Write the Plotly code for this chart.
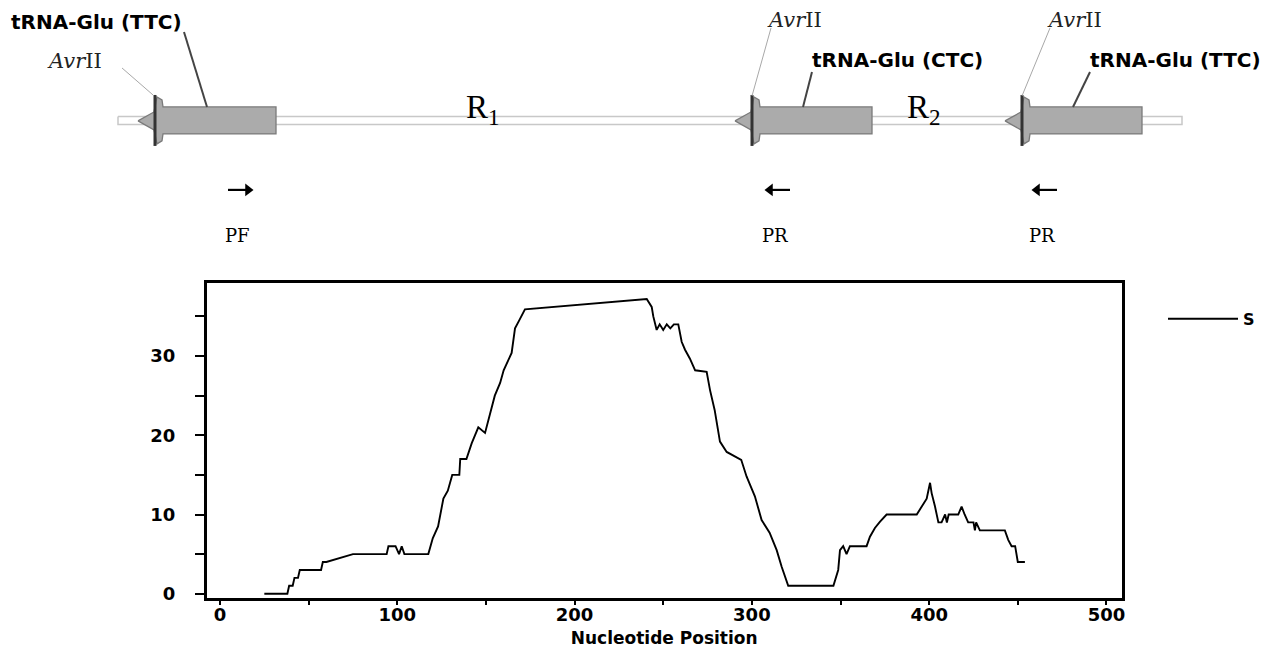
import plotly.graph_objects as go

# ---------------- data: similarity profile ----------------
positions = [25, 38, 39, 41, 42, 44, 45, 57, 58, 60, 75, 94, 95, 99, 101, 102.5, 104, 117.5,
             120, 123, 126, 128.5, 131, 135, 135.5, 139, 142, 145.7, 149.5, 152, 155, 158, 160,
             164.5, 166.4, 169, 172, 240.7, 243.5, 244.4, 246.3, 248, 250, 252, 254, 256, 258.5,
             260.4, 262.3, 265, 268, 274.5, 276.4, 279, 281, 282, 285.8, 294, 297, 301.7, 305.5,
             310, 314, 316.8, 320.5, 346, 348.7, 349.7, 351.5, 353.4, 355.3, 364.7, 366.6, 369.4,
             372.3, 376, 393, 395.7, 398.6, 400.5, 401.4, 403.3, 405.2, 407, 409, 410, 411, 416.4,
             418.3, 420, 422, 425, 425.8, 426.5, 428.6, 442.7, 444.6, 446.5, 448.5, 450, 454]
scores = [0, 0, 1, 1, 2, 2, 3, 3, 4, 4, 5, 5, 6, 6, 5, 6, 5, 5,
          7, 8.5, 12, 13, 15, 15, 17, 17, 19, 21, 20.3, 22.4, 25, 26.6, 28.2,
          30.4, 33.5, 34.6, 35.9, 37.2, 36.2, 35, 33.3, 34, 33.3, 34, 33.5, 34, 34,
          31.8, 30.8, 29.7, 28.2, 28, 25.7, 23.2, 20.3, 19.2, 17.9, 16.9, 14.8, 12.3, 9.3,
          7.7, 5.5, 3.4, 1, 1, 3, 5.5, 6, 5, 6, 6, 7.2, 8.3,
          9.1, 10, 10, 11, 12, 14, 12.7, 11, 9, 9, 10, 9, 10, 10,
          11, 10, 9, 9, 8, 9, 8, 8, 6.8, 6, 6, 4, 4]
series_name = "S"
x_ticks = [0, 100, 200, 300, 400, 500]
y_ticks = [0, 10, 20, 30]

# ---------------- data: gene map (schematic, pixel scale) ----------------
gene_labels = ["tRNA-Glu (TTC)", "tRNA-Glu (CTC)", "tRNA-Glu (TTC)"]
gene_tip = [138, 735, 1005]          # left (3') arrow tip
gene_end = [276, 872, 1142]          # right end of gene body
site_label = "<i>Avr</i>II"
backbone = [118, 1182]
region_labels = ["R<sub>1</sub>", "R<sub>2</sub>"]
region_pos = [483, 924]
primer_labels = ["PF", "PR", "PR"]
primer_pos = [240, 778, 1045]
primer_dir = [1, -1, -1]

fig = go.Figure()

# main profile
fig.add_trace(go.Scatter(x=positions, y=scores, mode="lines", name=series_name,
                         line=dict(color="black", width=1.9), xaxis="x", yaxis="y"))

# --- schematic on x2/y2 (page-pixel coordinates) ---
S = dict(xaxis="x2", yaxis="y2", showlegend=False, hoverinfo="skip")
fig.add_trace(go.Scatter(x=[backbone[0], backbone[1], backbone[1], backbone[0], backbone[0]],
                         y=[116.5, 116.5, 124.5, 124.5, 116.5], mode="lines", fill="toself",
                         fillcolor="white", line=dict(color="#c8c8c8", width=1.5), **S))
for t, e in zip(gene_tip, gene_end):
    xs = [t, t + 16, t + 19, t + 24, t + 25, e, e, t + 25, t + 24, t + 19, t + 16, t]
    ys = [121, 112, 97, 100, 107, 107, 134, 134, 141, 144, 130, 121]
    fig.add_trace(go.Scatter(x=xs, y=ys, mode="lines", fill="toself", fillcolor="#ababab",
                             line=dict(color="#7a7a7a", width=1.3), **S))
    fig.add_trace(go.Scatter(x=[t + 17, t + 17], y=[95, 146], mode="lines",
                             line=dict(color="#333333", width=3), **S))

# leader lines
gene_leaders = [((184, 32), (207, 107)), ((812, 72), (803, 107)), ((1090, 72), (1073, 107))]
site_leaders = [((122, 68), (153, 95)), ((771, 28), (752, 96)), ((1050, 28), (1022, 96))]
for (a, b) in gene_leaders:
    fig.add_trace(go.Scatter(x=[a[0], b[0]], y=[a[1], b[1]], mode="lines",
                             line=dict(color="#444444", width=2), **S))
for (a, b) in site_leaders:
    fig.add_trace(go.Scatter(x=[a[0], b[0]], y=[a[1], b[1]], mode="lines",
                             line=dict(color="#a8a8a8", width=1), **S))

# primer arrows
for px, d in zip(primer_pos, primer_dir):
    tail, head = px - d * 12, px + d * 12
    fig.add_trace(go.Scatter(x=[tail, head - d * 6], y=[190, 190], mode="lines",
                             line=dict(color="black", width=2.2), **S))
    fig.add_trace(go.Scatter(x=[head - d * 4], y=[190], mode="markers",
                             marker=dict(symbol="triangle-right" if d > 0 else "triangle-left",
                                         size=11, color="black", line=dict(width=0)), **S))

ann = []
gene_text_pos = [(9, 22), (810, 60), (1088, 60)]
for lab, (gx, gy) in zip(gene_labels, gene_text_pos):
    ann.append(dict(x=gx, y=gy, xref="x2", yref="y2", text=lab, showarrow=False,
                    xanchor="left", yanchor="middle",
                    font=dict(family="DejaVu Sans", size=20, color="black", weight="bold")))
site_text_pos = [(45, 61), (765, 20), (1045, 20)]
for (sx, sy) in site_text_pos:
    ann.append(dict(x=sx, y=sy, xref="x2", yref="y2", text=site_label, showarrow=False,
                    xanchor="left", yanchor="middle",
                    font=dict(family="DejaVu Serif", size=21, color="#222")))
for lab, rx in zip(region_labels, region_pos):
    ann.append(dict(x=rx, y=110, xref="x2", yref="y2", text=lab, showarrow=False,
                    xanchor="center", yanchor="middle",
                    font=dict(family="Liberation Serif", size=33, color="black")))
for lab, px in zip(primer_labels, primer_pos):
    ann.append(dict(x=px - 3, y=236, xref="x2", yref="y2", text=lab, showarrow=False,
                    xanchor="center", yanchor="middle",
                    font=dict(family="DejaVu Serif", size=18, color="black")))

# page has an 8px body margin: figure coordinates = page coordinates - O
O = 8
W = 1279 - O
H = 648 - O
plot_bottom = 598.3 - O
plot_top = 283.3 - O
B = H - plot_bottom
PH = H - B
tickfont = dict(family="DejaVu Sans", size=18, color="black", weight="bold")

fig.update_layout(
    template="none",
    width=W, height=H,
    margin=dict(l=0, r=0, t=0, b=B, pad=0),
    paper_bgcolor="white",
    plot_bgcolor="rgba(0,0,0,0)",
    showlegend=True,
    legend=dict(x=(1163 - O) / W, y=(PH - (319 - O)) / PH, xanchor="left", yanchor="middle",
                bgcolor="rgba(0,0,0,0)", borderwidth=0, itemwidth=70,
                font=dict(family="DejaVu Sans", size=16, color="black", weight="bold")),
    xaxis=dict(domain=[(206.7 - O) / W, (1121.7 - O) / W], range=[-7.5, 508.6], anchor="y",
               showline=True, linecolor="black", linewidth=2.5, mirror=True,
               showgrid=False, zeroline=False, ticks="outside", ticklen=4, tickwidth=2,
               tickcolor="black", tickvals=x_ticks, ticktext=[str(v) for v in x_ticks],
               minor=dict(dtick=50, tick0=0, ticks="outside", ticklen=4, tickwidth=2,
                          tickcolor="black", showgrid=False),
               tickfont=tickfont, ticklabelstandoff=-5, automargin=False,
               title=dict(text="Nucleotide Position", standoff=8,
                          font=dict(family="DejaVu Sans", size=17, color="black", weight="bold"))),
    yaxis=dict(domain=[0, (PH - plot_top) / PH], range=[-0.54, 39.2], anchor="x",
               showline=True, linecolor="black", linewidth=2.5, mirror=True,
               showgrid=False, zeroline=False, ticks="outside", ticklen=9, tickwidth=2,
               tickcolor="black", tickvals=y_ticks, ticktext=[str(v) for v in y_ticks],
               minor=dict(dtick=5, tick0=0, ticks="outside", ticklen=9, tickwidth=2,
                          tickcolor="black", showgrid=False),
               tickfont=tickfont, ticklabelstandoff=16, automargin=False),
    xaxis2=dict(domain=[0, 1], range=[O, O + W], anchor="y2", visible=False, fixedrange=True),
    yaxis2=dict(domain=[1 - (250 - O) / PH, 1], range=[250, O], anchor="x2", visible=False,
                fixedrange=True),
    annotations=ann,
)

fig.write_html("out.html")
